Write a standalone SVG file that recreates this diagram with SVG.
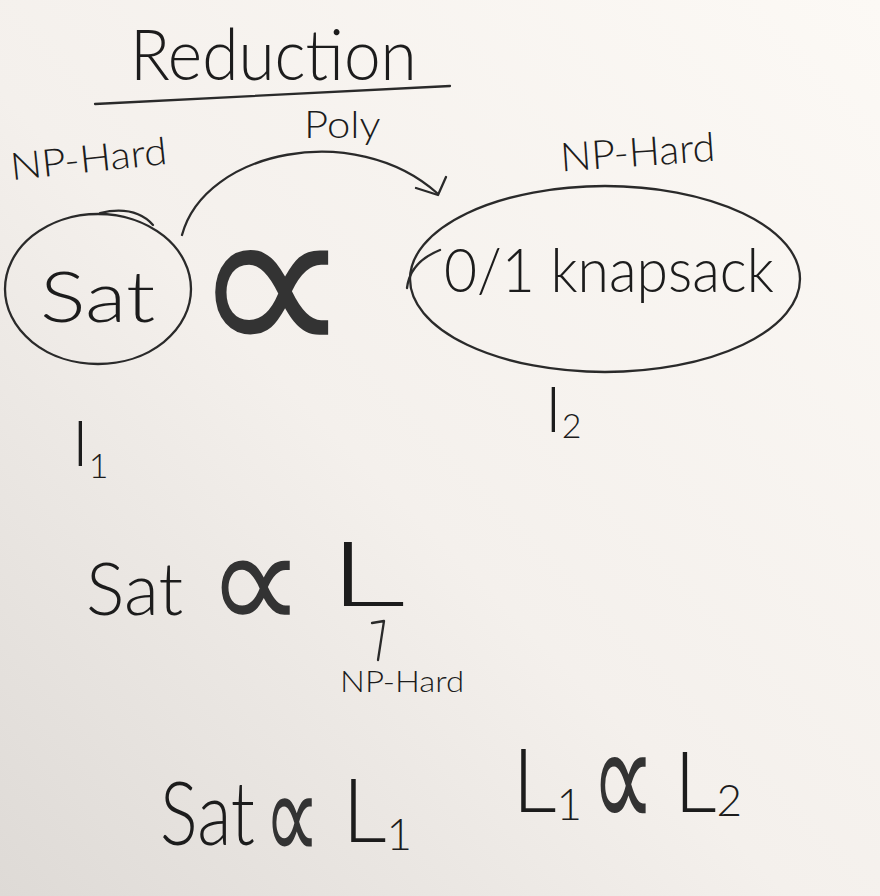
<svg xmlns="http://www.w3.org/2000/svg" width="880" height="896" viewBox="0 0 880 896">
<defs>
<linearGradient id="bg" x1="1" y1="0" x2="0" y2="1">
<stop offset="0" stop-color="#fcf9f5"/>
<stop offset="0.55" stop-color="#f4f0ec"/>
<stop offset="1" stop-color="#dedad6"/>
</linearGradient>
<style>
.t{font-family:"Lato","Liberation Sans","DejaVu Sans",sans-serif;font-weight:300;fill:#1c1c1c;}
.s{fill:none;stroke:#2a2a2a;stroke-width:2.3;stroke-linecap:round;stroke-linejoin:round;}
.m{font-family:"DejaVu Sans",sans-serif;fill:#333333;}
</style>
</defs>
<rect width="880" height="896" fill="url(#bg)"/>
<g id="title">
<text class="t" font-size="70" transform="translate(130 80) scale(0.94 1)">Reduction</text>
<path class="s" d="M95 104 L450 86"/>
</g>
<g id="sat">
<ellipse class="s" cx="98" cy="289" rx="93" ry="75"/>
<path class="s" d="M100 213 Q135 205 153 225"/>
<text class="t" font-size="70" transform="translate(40 322) scale(1.22 1)">Sat</text>
<text class="t" font-size="38" transform="rotate(-6 90 160) translate(10 172) scale(1.1 1)">NP-Hard</text>
</g>
<g id="alpha">
<text class="m" font-size="226" transform="translate(191 360)">∝</text>
</g>
<g id="knapsack">
<ellipse class="s" cx="605" cy="279" rx="195" ry="93"/>
<path class="s" d="M407 288 Q410 262 440 250"/>
<text class="t" font-size="62" transform="translate(444 292) scale(0.92 1)">0/1 knapsack</text>
<text class="t" font-size="40" transform="rotate(-4 640 150) translate(560 166) scale(1.03 1)">NP-Hard</text>
</g>
<g id="connectors">
<path class="s" d="M182 235 C205 150 355 120 437 193"/>
<path class="s" d="M416 188 L438 195 L446 177"/>
<text class="t" font-size="38" transform="translate(304 138) scale(1.1 1)">Poly</text>
</g>
<g id="i1">
<text class="t" x="72" y="466" font-size="64">I<tspan font-size="34" dy="12">1</tspan></text>
</g>
<g id="i2">
<text class="t" x="545" y="432" font-size="64">I<tspan font-size="34" dy="6">2</tspan></text>
</g>
<g id="line1">
<text class="t" font-size="72" transform="translate(86 615)">Sat</text>
<text class="m" font-size="145" transform="translate(207 631) scale(0.94 1)">∝</text>
<text class="t" font-size="90" transform="translate(328 606) scale(1.7 1)">L</text>
<path class="s" d="M372 623 L384 621 L378 660"/>
<text class="t" font-size="30" transform="translate(340 692) scale(1.1 1)">NP-Hard</text>
</g>
<g id="line2">
<text class="t" font-size="88" transform="translate(160 845) scale(0.8 1)">Sat</text>
<text class="m" font-size="129" transform="translate(264 861) scale(0.61 1)">∝</text>
<text class="t" x="342" y="842" font-size="88">L<tspan font-size="44" dy="8">1</tspan></text>
<text class="t" x="512" y="812" font-size="88">L<tspan font-size="44" dy="8">1</tspan></text>
<text class="m" font-size="150" transform="translate(591 830) scale(0.6 1)">∝</text>
<text class="t" x="674" y="812" font-size="84">L<tspan font-size="44" dy="4">2</tspan></text>
</g>
</svg>
